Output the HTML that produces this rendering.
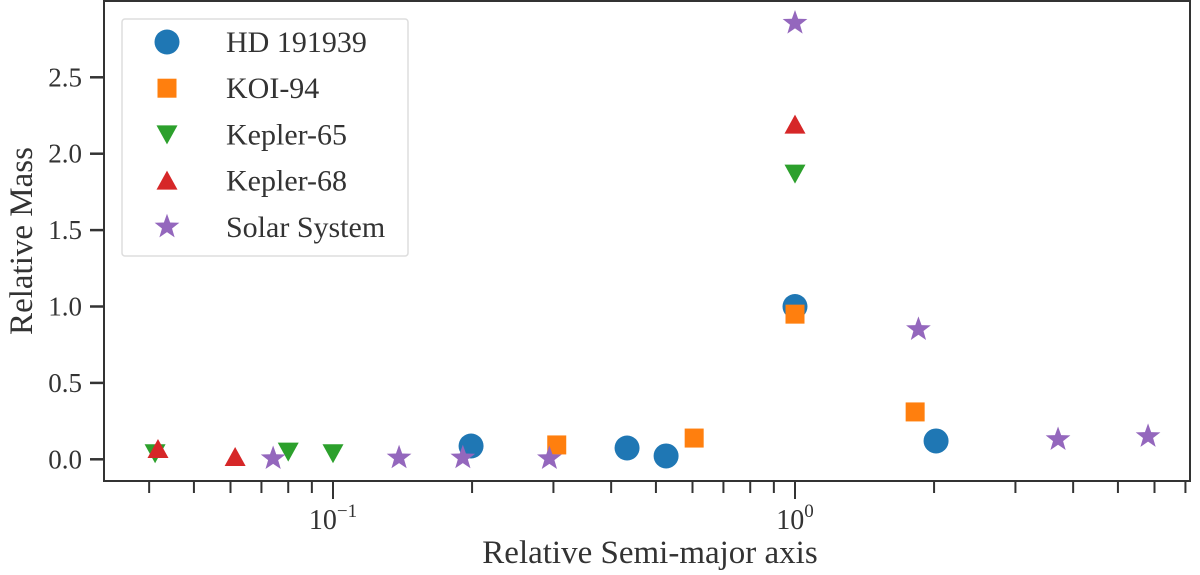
<!DOCTYPE html>
<html><head><meta charset="utf-8">
<style>
html,body{margin:0;padding:0;background:#fff;}
svg{display:block;font-family:"Liberation Serif",serif;}
</style></head>
<body>
<svg id="chart" width="1200" height="575" viewBox="0 0 1200 575">
  <g id="marks"></g>
  <g id="axes"></g>
  <g id="legend"></g>
</svg>
<script>
const hdX = [0.199, 0.433, 0.526, 1.0, 2.02];
const hdY = [0.087, 0.074, 0.022, 1.0, 0.12];
const koiX = [0.305, 0.605, 1.0, 1.82];
const koiY = [0.094, 0.139, 0.95, 0.31];
const k65X = [0.0412, 0.080, 0.1, 1.0];
const k65Y = [0.04, 0.05, 0.04, 1.87];
const k68X = [0.0418, 0.0614, 1.0];
const k68Y = [0.067, 0.015, 2.19];
const solX = [0.0742, 0.139, 0.191, 0.294, 1.0, 1.85, 3.71, 5.81];
const solY = [0.005, 0.01, 0.01, 0.005, 2.855, 0.85, 0.13, 0.15];
const seriesNames = ["HD 191939", "KOI-94", "Kepler-65", "Kepler-68", "Solar System"];
const yTicks = [0, 0.5, 1.0, 1.5, 2.0, 2.5];
const yTickLabels = ["0.0", "0.5", "1.0", "1.5", "2.0", "2.5"];
const xMajor = [-1, 0];

const NS = "http://www.w3.org/2000/svg";
const L = 104, R = 1190, T = 1, B = 481;
function xs(v){ return 795 + 462 * Math.log10(v); }
function ys(v){ return 459.3 - 152.8 * v; }
function mk(tag, attrs, parent){
  const e = document.createElementNS(NS, tag);
  for (const k in attrs) e.setAttribute(k, attrs[k]);
  parent.appendChild(e); return e;
}
const colors = ["#1f77b4", "#ff7f0e", "#2ca02c", "#d62728", "#9467bd"];
function marker(type, cx, cy, color, parent){
  let e;
  if (type === 0) e = mk("circle", {cx:cx, cy:cy, r:12.5, fill:color}, parent);
  else if (type === 1) e = mk("rect", {x:cx-9.5, y:cy-9.5, width:19, height:19, fill:color}, parent);
  else if (type === 2) e = mk("polygon", {points:`${cx-10.5},${cy-9} ${cx+10.5},${cy-9} ${cx},${cy+10}`, fill:color}, parent);
  else if (type === 3) e = mk("polygon", {points:`${cx-10.5},${cy+9} ${cx+10.5},${cy+9} ${cx},${cy-10}`, fill:color}, parent);
  else {
    let pts = [];
    for (let i = 0; i < 10; i++){
      const a = -Math.PI/2 + i*Math.PI/5, r = i%2 ? 5.3 : 13;
      pts.push((cx + r*Math.cos(a)).toFixed(2) + "," + (cy + r*Math.sin(a)).toFixed(2));
    }
    e = mk("polygon", {points:pts.join(" "), fill:color}, parent);
  }
  return e;
}
const marks = document.getElementById("marks");
const allX = [hdX, koiX, k65X, k68X, solX], allY = [hdY, koiY, k65Y, k68Y, solY];
const slugs = ["hd191939", "koi94", "kepler65", "kepler68", "solar-system"];
for (let s = 0; s < 5; s++){
  for (let i = 0; i < allX[s].length; i++){
    const e = marker(s, xs(allX[s][i]), ys(allY[s][i]), colors[s], marks);
    
    
  }
}
const axes = document.getElementById("axes");
const frame = mk("rect", {x:L, y:T, width:R-L, height:B-T, fill:"none", stroke:"#333", "stroke-width":2}, axes);


yTicks.forEach((v, i) => {
  const y = ys(v);
  const t = mk("line", {x1:L-14, x2:L, y1:y, y2:y, stroke:"#333", "stroke-width":2.5}, axes);
  
  
  const lb = mk("text", {x:L-22, y:y+9, "text-anchor":"end", "font-size":27, fill:"#333"}, axes);
  lb.textContent = yTickLabels[i];
  
  
});
for (let d = -2; d <= 0; d++){
  for (let m = 1; m <= 9; m++){
    const v = m * Math.pow(10, d);
    const x = xs(v);
    if (x < L || x > R) continue;
    const major = (m === 1);
    const t = mk("line", {x1:x, x2:x, y1:B, y2:B + (major ? 18 : 12), stroke:"#333", "stroke-width":2}, axes);
    
    
  }
}
xMajor.forEach(p => {
  const x = xs(Math.pow(10, p));
  const lb = mk("text", {x:x, y:529, "text-anchor":"middle", "font-size":28, fill:"#333"}, axes);
  lb.textContent = "10";
  const sup = mk("tspan", {dy:-12, "font-size":19}, lb);
  sup.textContent = p === 0 ? "0" : "\u22121";
  
  
});
const xt = mk("text", {x:650, y:563, "text-anchor":"middle", "font-size":33, fill:"#333"}, axes);
xt.textContent = "Relative Semi-major axis";


const yt = mk("text", {x:0, y:0, "text-anchor":"middle", "font-size":33, fill:"#333", transform:"translate(32,241) rotate(-90)"}, axes);
yt.textContent = "Relative Mass";



const lg = document.getElementById("legend");
const box = mk("rect", {x:122, y:19, width:286, height:237, rx:3, fill:"#fff", "fill-opacity":0.8, stroke:"#ddd", "stroke-width":1.5}, lg);


seriesNames.forEach((n, i) => {
  const y = 42 + i * 46.2;
  const g = mk("g", {}, lg);
  
  
  marker(i, 167, y, colors[i], g);
  const t = mk("text", {x:226, y:y+10, "font-size":30, fill:"#333"}, g);
  t.textContent = n;
});
</script>
</body></html>
